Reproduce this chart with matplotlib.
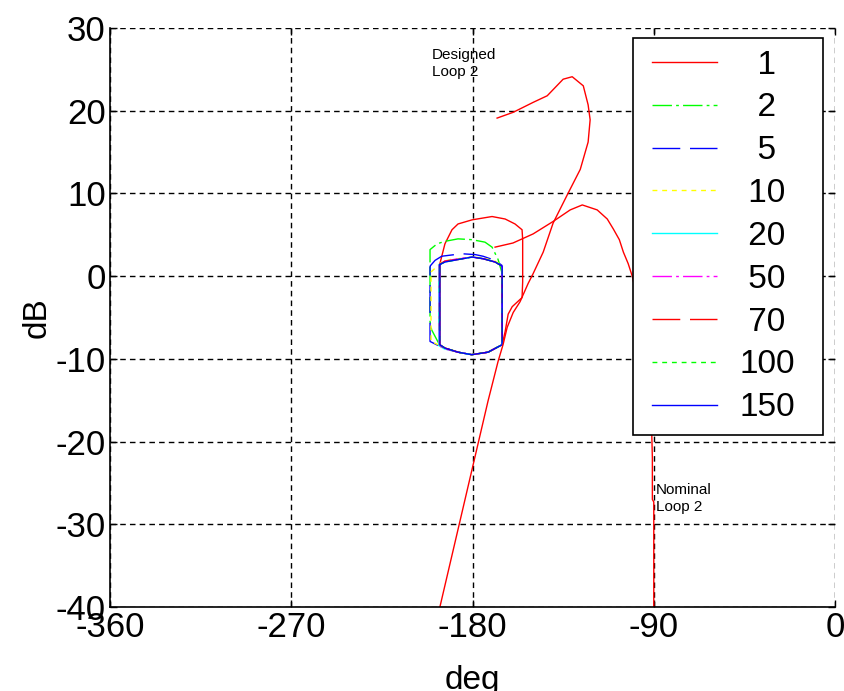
import matplotlib
matplotlib.use("Agg")
import matplotlib.pyplot as plt
from matplotlib.lines import Line2D
from matplotlib.legend_handler import HandlerLine2D

plt.rcParams['font.family'] = ['Liberation Sans', 'DejaVu Sans']
plt.rcParams['axes.unicode_minus'] = False

# templates at each frequency (phase in deg, gain in dB), closed loops
freqs = ['1', '2', '5', '10', '20', '50', '70', '100', '150']
colors = ['red', 'lime', 'blue', 'yellow', 'cyan', 'magenta', 'red', 'lime', 'blue']
styles = ['-', (0, (14, 3, 2, 3)), (0, (20, 7)), (0, (3.5, 3.5)), '-',
          (0, (14, 3, 2, 3)), (0, (20, 7)), (0, (3.5, 3.5)), '-']

t1_deg = [-196.2, -193.7, -190.2, -187.2, -180.2, -170.3, -163.8, -158.9, -155.4, -155.1,
          -155.1, -155.4, -160.3, -162.3, -163.8, -165.3, -172.3, -180.4, -187.2, -193.7,
          -196.2, -196.2]
t1_db = [1.5, 3.9, 5.6, 6.3, 6.8, 7.2, 6.9, 6.3, 5.6, 4.4,
         -0.7, -2.6, -3.7, -4.6, -6.7, -8.3, -9.2, -9.5, -9.2, -8.7,
         -8.3, 1.5]

t2_deg = [-201.1, -201.1, -197.6, -193.7, -187.2, -180.2, -173.8, -170.3, -167.3, -165.5,
          -165.5, -172.3, -180.4, -187.2, -193.7, -196.2, -200.3, -201.1, -201.1]
t2_db = [1.7, 3.2, 3.9, 4.2, 4.5, 4.4, 4.1, 3.5, 2.0, 0.5,
         -8.3, -9.2, -9.5, -9.2, -8.7, -8.4, -6.5, -5.5, 1.7]

t5_deg = [-201.1, -198.6, -195.3, -185.4, -178.7, -174.8, -168.8, -165.4, -165.4, -172.3,
          -180.4, -187.2, -193.7, -196.2, -201.1, -201.1]
t5_db = [1.2, 1.9, 2.4, 2.7, 2.6, 2.4, 1.9, 1.3, -8.3, -9.2,
         -9.5, -9.2, -8.7, -8.5, -7.9, 1.2]

t10_deg = [-200.6, -195.3, -191.2, -187.2, -180.2, -174.8, -168.8, -165.3, -165.3, -172.3,
           -180.4, -187.2, -193.7, -196.2, -200.6, -200.6]
t10_db = [0.5, 1.7, 2.0, 2.1, 2.3, 2.2, 1.8, 1.3, -8.3, -9.2,
          -9.5, -9.2, -8.7, -8.4, -7.9, 0.5]

t20_deg = [-196.8, -193.9, -187.2, -180.2, -174.7, -168.7, -165.3, -165.3, -172.3, -180.4,
           -187.3, -194.0, -196.8, -196.8]
t20_db = [1.3, 1.7, 2.0, 2.3, 2.1, 1.7, 1.2, -8.3, -9.2, -9.5,
          -9.2, -8.8, -8.4, 1.3]

t50_deg = [-196.5, -193.8, -187.2, -180.2, -174.7, -168.7, -165.3, -165.3, -172.3, -180.4,
           -187.2, -193.8, -196.5, -196.5]
t50_db = [1.4, 1.8, 2.1, 2.3, 2.1, 1.7, 1.2, -8.3, -9.2, -9.5,
          -9.2, -8.8, -8.4, 1.4]

t70_deg = [-196.4, -193.8, -187.2, -180.2, -174.8, -168.8, -165.3, -165.3, -172.3, -180.4,
           -187.2, -193.8, -196.4, -196.4]
t70_db = [1.4, 1.8, 2.0, 2.3, 2.1, 1.7, 1.2, -8.3, -9.2, -9.5,
          -9.2, -8.7, -8.3, 1.4]

t100_deg = [-196.3, -193.7, -187.2, -180.2, -174.8, -168.8, -165.3, -165.3, -172.3, -180.4,
            -187.2, -193.7, -196.3, -196.3]
t100_db = [1.4, 1.7, 2.0, 2.3, 2.1, 1.7, 1.2, -8.3, -9.2, -9.5,
           -9.2, -8.7, -8.3, 1.4]

t150_deg = [-196.2, -193.7, -187.2, -180.2, -174.8, -168.8, -165.3, -165.3, -172.3, -180.4,
            -187.2, -193.7, -196.2, -196.2]
t150_db = [1.4, 1.7, 2.0, 2.3, 2.1, 1.7, 1.2, -8.3, -9.2, -9.5,
           -9.2, -8.7, -8.3, 1.4]

# open loop responses
designed_deg = [-196.2, -172.3, -167.3, -164.8, -162.8, -159.8, -156.4, -152.4, -149.9, -144.9,
                -140.0, -133.0, -126.5, -122.6, -121.6, -122.6, -125.0, -130.5, -135.0, -142.9,
                -149.9, -159.8, -167.8]
designed_db = [-40.0, -15.1, -10.3, -8.25, -6.2, -4.4, -3.1, -0.9, 0.3, 2.9,
               6.4, 9.8, 12.9, 16.2, 18.9, 20.7, 23.0, 24.1, 23.8, 21.8,
               21.0, 19.8, 19.1]

nominal_deg = [-90.0, -90.0, -90.7, -90.7, -91.0, -92.0, -93.5, -95.5, -98.0, -100.7,
               -102.7, -105.1, -107.1, -110.1, -113.1, -118.1, -125.5, -131.5, -140.0, -149.9,
               -159.9, -168.8]
nominal_db = [-40.0, -27.3, -27.0, -22.0, -19.0, -15.0, -11.0, -7.0, -3.0, 0.0,
              1.5, 2.9, 4.4, 5.7, 6.9, 8.0, 8.6, 8.0, 6.6, 5.1,
              4.0, 3.5]

templates = [(t1_deg, t1_db), (t2_deg, t2_db), (t5_deg, t5_db), (t10_deg, t10_db),
             (t20_deg, t20_db), (t50_deg, t50_db), (t70_deg, t70_db),
             (t100_deg, t100_db), (t150_deg, t150_db)]

fig = plt.figure(figsize=(8.45, 6.91), dpi=100)
ax = fig.add_axes([0.1302, 0.1216, 0.858, 0.838])

handles = []
for (d, g), c, ls, lab in zip(templates, colors, styles, freqs):
    ln, = ax.plot(d, g, color=c, linestyle=ls, linewidth=1.0, label=lab)
    handles.append(ln)

ax.plot(designed_deg, designed_db, color='red', linewidth=1.0)
ax.plot(nominal_deg, nominal_db, color='red', linewidth=1.0)

ax.text(-200, 27.6, 'Designed\nLoop 2', fontsize=11, ha='left', va='top', linespacing=1.25)
ax.text(-89, -25.0, 'Nominal\nLoop 2', fontsize=11, ha='left', va='top', linespacing=1.25)

ax.set_xlim(-360, 0)
ax.set_ylim(-40, 30)
ax.set_xticks([-360, -270, -180, -90, 0])
ax.set_yticks([-40, -30, -20, -10, 0, 10, 20, 30])
ax.grid(True, color='black', linestyle=(0, (4, 3)), linewidth=1.0)
ax.set_axisbelow(True)
ax.tick_params(direction='in', top=True, right=True, length=5, width=1.0,
               labelsize=25, pad=3)
for side in ['top', 'right']:
    ax.spines[side].set_visible(False)
for side in ['left', 'bottom']:
    ax.spines[side].set_linewidth(1.2)

ax.set_xlabel('deg', fontsize=24, labelpad=15)
ax.set_ylabel('dB', fontsize=24, labelpad=2)

# centre the legend labels with leading spaces
pad_labels = [' ' * (3 - len(s)) + s for s in freqs]
leg = ax.legend(handles, pad_labels, loc='upper right', mode='expand',
                bbox_to_anchor=(0.7214, 0.4, 0.262, 0.5827),
                borderaxespad=0, fontsize=24, fancybox=False, framealpha=1,
                edgecolor='black', borderpad=0.35, labelspacing=0.355,
                handlelength=2.17, handletextpad=0.66,
                handler_map={Line2D: HandlerLine2D(xpad=0.22)})
leg.get_frame().set_linewidth(1.2)

fig.savefig('out.png', dpi=100)
